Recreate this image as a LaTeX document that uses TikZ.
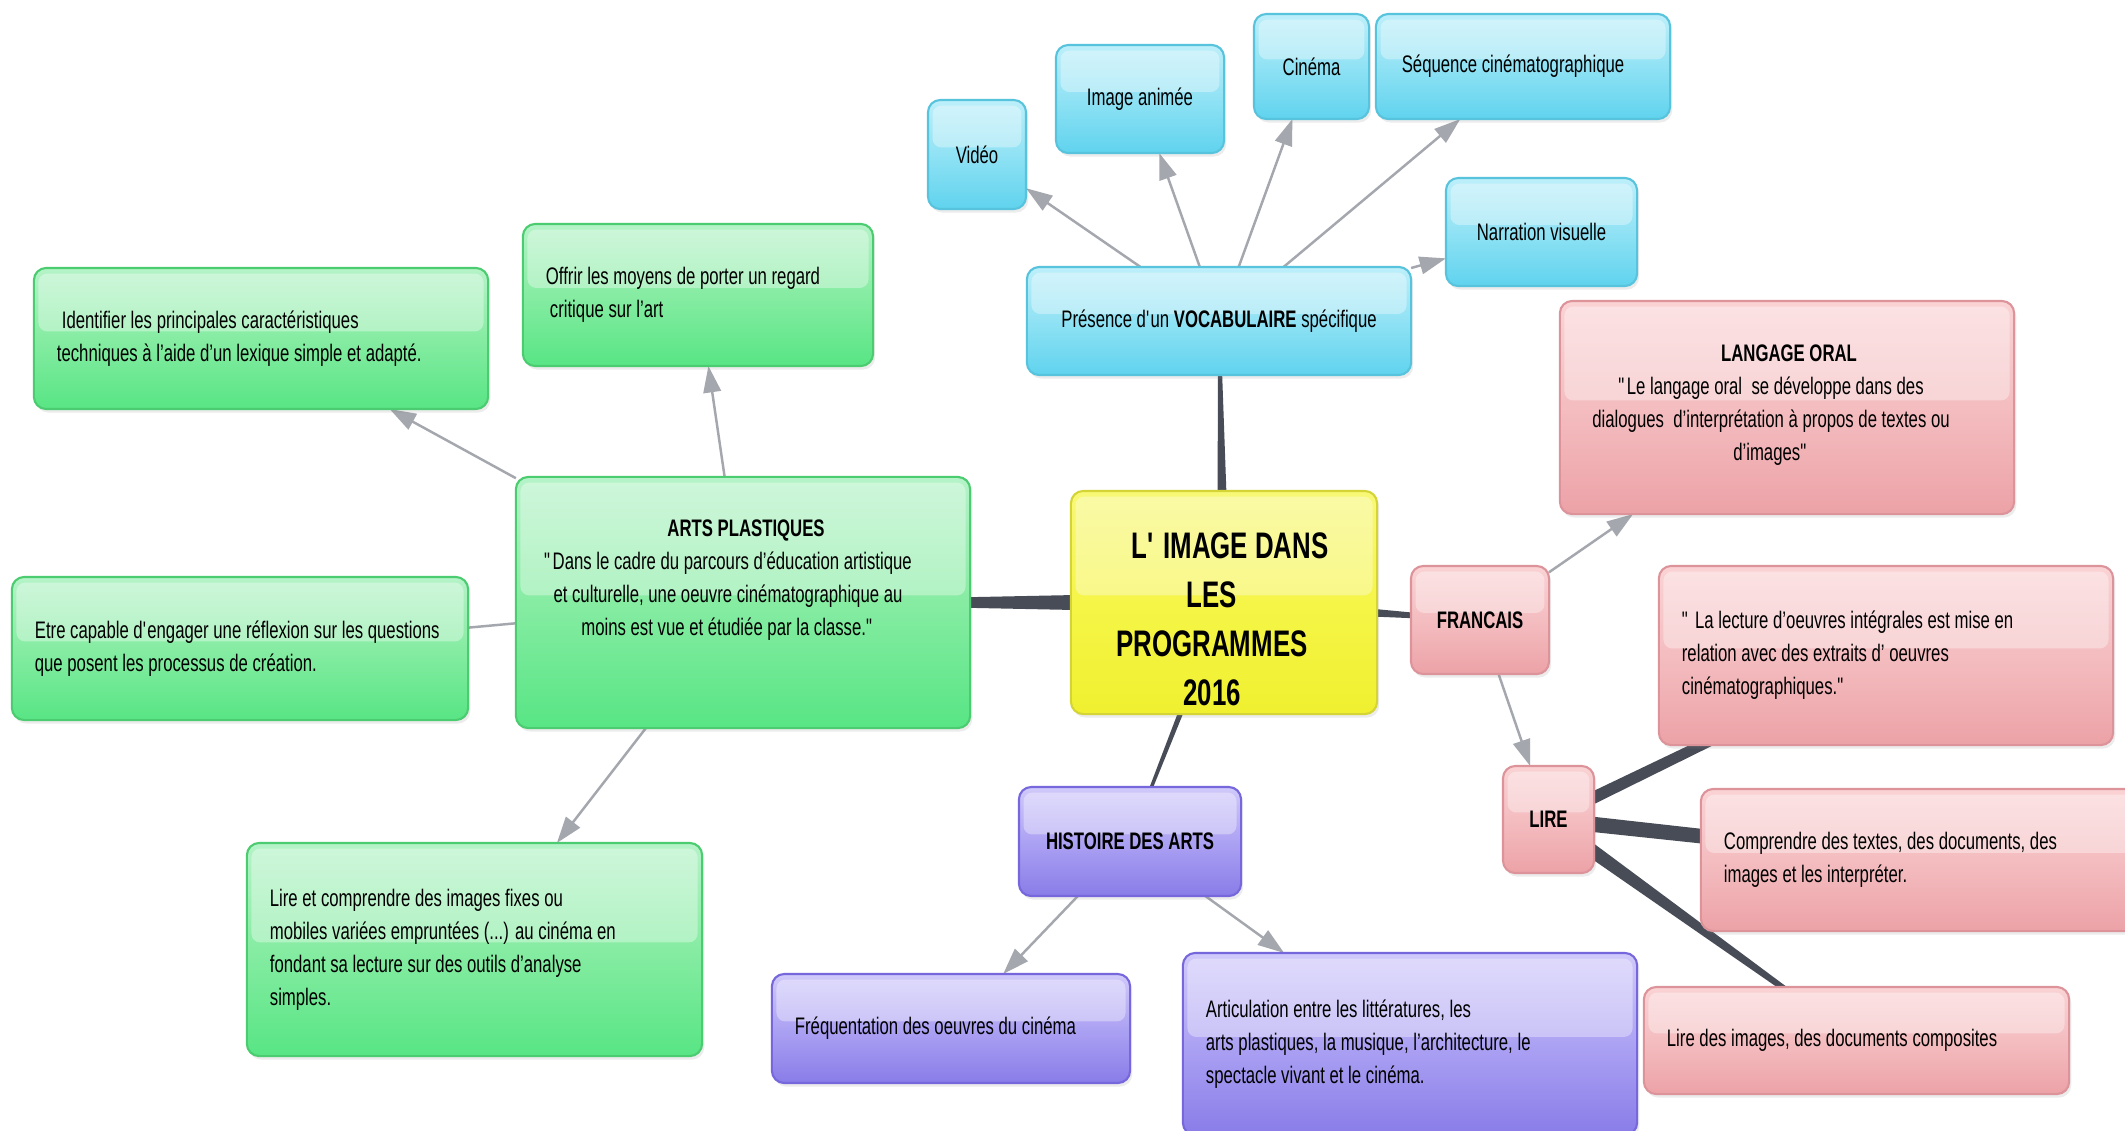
\documentclass[tikz,border=0pt]{standalone}
\usepackage{fontspec}
\setmainfont{Liberation Sans}[FakeStretch=0.7]
\usetikzlibrary{arrows.meta,calc,shadows,backgrounds}
\newcommand\sdq{\XeTeXglyph\XeTeXcharglyph"22\relax}
\definecolor{bluetop}{HTML}{BDEFFA}
\definecolor{bluemid}{HTML}{90E2F4}
\definecolor{bluebot}{HTML}{60D3EE}
\definecolor{blueline}{HTML}{58C3DC}
\definecolor{greentop}{HTML}{B5F3C8}
\definecolor{greenmid}{HTML}{86ECA2}
\definecolor{greenbot}{HTML}{58E585}
\definecolor{greenline}{HTML}{4CCC70}
\definecolor{yeltop}{HTML}{F8F878}
\definecolor{yelmid}{HTML}{F5F548}
\definecolor{yelbot}{HTML}{F0F030}
\definecolor{yelline}{HTML}{D4D436}
\definecolor{purtop}{HTML}{D0C9FA}
\definecolor{purmid}{HTML}{ACA2F3}
\definecolor{purbot}{HTML}{897CE8}
\definecolor{purline}{HTML}{7667DC}
\definecolor{redtop}{HTML}{FAD3D5}
\definecolor{redmid}{HTML}{F4BDC0}
\definecolor{redbot}{HTML}{ECA2A7}
\definecolor{redline}{HTML}{DC939A}
\definecolor{arrgray}{HTML}{A4A7AD}
\definecolor{thickgray}{HTML}{474C57}
\newcommand\taper[4]{\fill[thickgray] ($(#1)!#3!90:(#2)$) -- ($(#1)!#3!-90:(#2)$) -- ($(#2)!#4!90:(#1)$) -- ($(#2)!#4!-90:(#1)$) -- cycle;}
\tikzset{
 gloss/.style={path picture={\fill[white,opacity=0.35,rounded corners=2.5pt] ([xshift=1.3pt,yshift=-1.6pt]path picture bounding box.north west) rectangle ([xshift=-1.3pt,yshift=2pt]path picture bounding box.east);}},
 mmbox/.style={rounded corners=3.5pt, line width=0.6pt, inner sep=0pt, outer sep=0pt,
   font=\fontsize{6.8}{9.4}\selectfont, align=center, gloss,
   drop shadow={opacity=0.15,shadow xshift=0.6pt,shadow yshift=-1pt}},
 bluebox/.style={mmbox, draw=blueline, top color=bluetop, bottom color=bluebot, middle color=bluemid},
 greenbox/.style={mmbox, draw=greenline, top color=greentop, bottom color=greenbot, middle color=greenmid},
 yelbox/.style={mmbox, draw=yelline, top color=yeltop, bottom color=yelbot, middle color=yelmid},
 purbox/.style={mmbox, draw=purline, top color=purtop, bottom color=purbot, middle color=purmid},
 redbox/.style={mmbox, draw=redline, top color=redtop, bottom color=redbot, middle color=redmid},
 lefttext/.style={align=flush left, inner xsep=0.23cm},
 mmtext/.style={font=\fontsize{6.8}{9.4}\selectfont, align=center, inner sep=0pt},
 arr/.style={draw=arrgray, line width=0.7pt, -{Triangle[length=7.5pt,width=5pt]}},
 greyline/.style={draw=arrgray, line width=0.7pt},
}
\begin{document}
\begin{tikzpicture}[x=0.01cm,y=-0.01cm]
\useasboundingbox (0,0) rectangle (2125,1130);
% blue
\node[bluebox, minimum width=0.98cm, minimum height=1.09cm] (video) at (977,154.5) {Vidéo};
\node[bluebox, minimum width=1.68cm, minimum height=1.08cm] (imganim) at (1140,99) {Image animée};
\node[bluebox, minimum width=1.15cm, minimum height=1.05cm] (cinema) at (1311.5,66.5) {Cinéma};
\node[bluebox, minimum width=2.94cm, minimum height=1.05cm] (sequence) at (1523,66.5) {Séquence cinématographique\hspace*{0.2cm}};
\node[bluebox, minimum width=1.91cm, minimum height=1.08cm] (narration) at (1541.5,232) {Narration visuelle};
\node[bluebox, minimum width=3.84cm, minimum height=1.08cm] (presence) at (1219,321) {Présence d\textquotesingle un \textbf{VOCABULAIRE} spécifique};
% centre
\node[yelbox, minimum width=3.06cm, minimum height=2.23cm] (main) at (1224,602.5) {};
\node[font=\bfseries\fontsize{10.5}{13.9}\selectfont, align=center, inner sep=0pt] (maintext) at (1212,619) {\hspace*{0.36cm}L\textquotesingle\ IMAGE DANS\\LES\\PROGRAMMES\\2016};
% green
\node[greenbox, lefttext, text width=4.08cm, minimum width=4.54cm, minimum height=1.41cm] (identifier) at (261,338.5) {\hspace*{0.05cm}Identifier les principales caractéristiques\\techniques à l’aide d’un lexique simple et adapté.};
\node[greenbox, lefttext, text width=3.04cm, minimum width=3.50cm, minimum height=1.42cm] (offrir) at (698,295) {Offrir les moyens de porter un regard\\\hspace*{0.04cm}critique sur l’art};
\node[greenbox, minimum width=4.54cm, minimum height=2.51cm] (arts) at (743,602.5) {};
\node[mmtext] (artstext) at (728,580) {\hspace*{0.36cm}\textbf{ARTS PLASTIQUES}\\\sdq Dans le cadre du parcours d’éducation artistique\\et culturelle, une oeuvre cinématographique au\\moins est vue et étudiée par la classe.\sdq};
\node[greenbox, lefttext, text width=4.10cm, minimum width=4.56cm, minimum height=1.43cm] (etre) at (240,648.5) {\mbox{Etre capable d\textquotesingle engager une réflexion sur les questions}\\que posent les processus de création.};
\node[greenbox, lefttext, text width=4.09cm, minimum width=4.55cm, minimum height=2.13cm] (lirecomp) at (474.5,949.5) {Lire et comprendre des images fixes ou\\mobiles variées empruntées (...) au cinéma en\\fondant sa lecture sur des outils d’analyse\\simples.};
% purple
\node[purbox, minimum width=2.22cm, minimum height=1.09cm] (histoire) at (1130,841.5) {\textbf{HISTOIRE DES ARTS}};
\node[purbox, lefttext, text width=3.12cm, minimum width=3.58cm, minimum height=1.09cm] (frequentation) at (951,1028.5) {Fréquentation des oeuvres du cinéma};
\node[purbox, lefttext, text width=4.08cm, minimum width=4.54cm, minimum height=1.82cm] (articulation) at (1410,1044) {Articulation entre les littératures, les\\arts plastiques, la musique, l’architecture, le\\spectacle vivant et le cinéma.};
% red
\node[redbox, minimum width=4.54cm, minimum height=2.13cm] (langage) at (1787,407.5) {};
\node[mmtext] (langagetext) at (1771,405) {\hspace*{0.36cm}\textbf{LANGAGE ORAL}\\\sdq Le langage oral\ \ se développe dans des\\dialogues\ \ d’interprétation à propos de textes ou\\d’images\sdq};
\node[redbox, minimum width=1.38cm, minimum height=1.08cm] (francais) at (1480,620) {\textbf{FRANCAIS}};
\node[redbox, lefttext, text width=4.08cm, minimum width=4.54cm, minimum height=1.79cm] (lecture) at (1886,655.5) {\sdq\ La lecture d’oeuvres intégrales est mise en\\relation avec des extraits d’ oeuvres\\cinématographiques.\sdq};
\node[redbox, minimum width=0.91cm, minimum height=1.07cm] (lire) at (1548.5,819.5) {\textbf{LIRE}};
\node[redbox, lefttext, text width=3.93cm, minimum width=4.39cm, minimum height=1.42cm] (comprendre) at (1920.5,860) {Comprendre des textes, des documents, des\\images et les interpréter.};
\node[redbox, lefttext, text width=3.79cm, minimum width=4.25cm, minimum height=1.07cm] (liredes) at (1856.5,1040.5) {Lire des images, des documents composites};
% connectors
\begin{scope}[on background layer]
\fill[white] (0,0) rectangle (2125,1130);
\taper{main}{presence}{1.8pt}{0.35pt}
\taper{main}{arts}{3pt}{0.2pt}
\taper{main}{francais}{2.2pt}{0.3pt}
\taper{main}{histoire}{1.1pt}{0.3pt}
\taper{lire}{lecture}{1.8pt}{1.1pt}
\taper{lire}{comprendre}{2.2pt}{1.9pt}
\taper{lire}{liredes}{2.2pt}{0.4pt}
\draw[arr] (presence) -- (video);
\draw[arr] (presence) -- (imganim);
\draw[arr] (presence) -- (cinema);
\draw[arr] (presence) -- (sequence);
\draw[arr] (presence) -- (narration);
\draw[arr] (arts) -- (identifier);
\draw[arr] (arts) -- (offrir);
\draw[greyline] (arts) -- (etre);
\draw[arr] (arts) -- (lirecomp);
\draw[arr] (francais) -- (langage);
\draw[arr] (francais) -- (lire);
\draw[arr] (histoire) -- (frequentation);
\draw[arr] (histoire) -- (articulation);
\end{scope}
\end{tikzpicture}
\end{document}
